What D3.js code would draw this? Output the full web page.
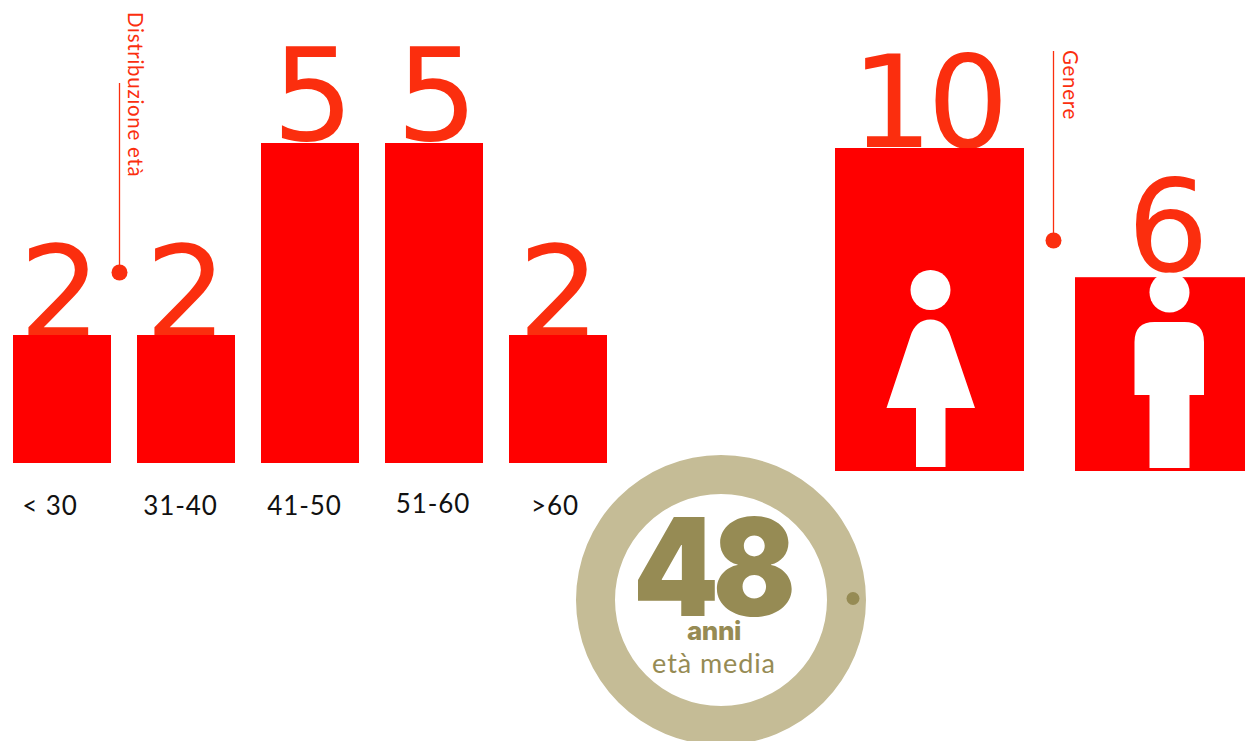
<!DOCTYPE html>
<html><head><meta charset="utf-8">
<script src="https://cdnjs.cloudflare.com/ajax/libs/d3/7.8.5/d3.min.js"></script>
<style>html,body{margin:0;padding:0;background:#fff}svg{display:block}</style>
</head><body><svg id="c" width="1245" height="741"></svg>
<script>
const ageCategories = ["< 30","31-40","41-50","51-60",">60"];
const ageValues = [2,2,5,5,2];
const genderCategories = ["Donne","Uomini"];
const genderValues = [10,6];
const ageTitle = "Distribuzione età";
const genderTitle = "Genere";
const averageAge = 48;
const averageUnit = "anni";
const averageLabel = "età media";

const RED="#ff0000", ORANGE="#fb2e0e", TAN="#c5bc96", OLIVE="#968b54";
const NUM_FONT="'DejaVu Sans'", TXT_FONT="Lato", HEAVY="Inter";
const svg=d3.select("#c");

const xAge=d3.scaleBand().domain(ageCategories).range([0,620]).paddingInner(26/124).paddingOuter(13/124);
const yAge=d3.scaleLinear().domain([0,5]).range([463,143]);

const ageLabelDx={"< 30":-12,"31-40":-5.5,"41-50":-5.5,"51-60":-1,">60":-3};
const ageLabelDy={"51-60":-2};
const ageNumDx=[-2,0,3,3,1];

const gAge=svg.append("g");
gAge.selectAll("text.num").data(ageValues).join("text").attr("class","num")
  .attr("x",(d,i)=>xAge(ageCategories[i])+xAge.bandwidth()/2+ageNumDx[i])
  .attr("y",d=>yAge(d)+(d===5?-3:3))
  .attr("text-anchor","middle").attr("font-family",NUM_FONT)
  .attr("font-size",129).attr("fill",ORANGE).text(d=>d);
gAge.selectAll("rect").data(ageValues).join("rect")
  .attr("x",(d,i)=>xAge(ageCategories[i])).attr("width",xAge.bandwidth())
  .attr("y",d=>yAge(d)).attr("height",d=>yAge(0)-yAge(d)).attr("fill",RED);
gAge.selectAll("text.lab").data(ageCategories).join("text").attr("class","lab")
  .attr("x",d=>xAge(d)+xAge.bandwidth()/2+ageLabelDx[d])
  .attr("y",d=>515+(ageLabelDy[d]||0))
  .attr("text-anchor","middle").attr("font-family",TXT_FONT).attr("font-size",26).attr("letter-spacing",0.9).attr("fill","#111").text(d=>d);

// gender bars
const yGender=d3.scaleLinear().domain([0,10]).range([471,148]);
const genderX=[835,1075], genderW=[189,170], genderNumX=[927,1168];
const gGen=svg.append("g");
gGen.selectAll("text").data(genderValues).join("text")
  .attr("x",(d,i)=>genderNumX[i]).attr("y",(d,i)=>yGender(d)+(i?-6:-1))
  .attr("text-anchor","middle").attr("font-family",NUM_FONT).attr("letter-spacing",(d,i)=>i?0:-6)
  .attr("font-size",129).attr("fill",ORANGE).text(d=>d);
gGen.selectAll("rect").data(genderValues).join("rect")
  .attr("x",(d,i)=>genderX[i]).attr("width",(d,i)=>genderW[i])
  .attr("y",d=>yGender(d)).attr("height",d=>yGender(0)-yGender(d)).attr("fill",RED);

// pictograms
const female=svg.append("g").attr("fill","#fff").attr("transform","translate(930.5,0)");
female.append("circle").attr("cy",290).attr("r",20);
female.append("path").attr("d","M-20,336 C-17,326 -10,319.5 0,319.5 C10,319.5 17,326 20,336 L44.5,408 L15,408 L15,467 L-14.5,467 L-14.5,408 L-44,408 Z");
const male=svg.append("g").attr("fill","#fff").attr("transform","translate(1169.5,0)");
male.append("circle").attr("cy",292.5).attr("r",20);
male.append("path").attr("d","M-35,342 Q-35,322 -15,322 L15,322 Q34.5,322 34.5,342 L34.5,395 L20,395 L20,468 L-20,468 L-20,395 L-35,395 Z");

// callouts
function callout(x,y1,y2,title,tx,ty){
  svg.append("line").attr("x1",x).attr("x2",x).attr("y1",y1).attr("y2",y2).attr("stroke",ORANGE).attr("stroke-width",1.3);
  svg.append("circle").attr("cx",x).attr("cy",y2).attr("r",8).attr("fill",ORANGE);
  svg.append("text").attr("transform",`translate(${tx},${ty}) rotate(90)`)
    .attr("font-family",TXT_FONT).attr("font-size",20.5).attr("letter-spacing",0.7).attr("fill",ORANGE).text(title);
}
callout(119.5,83,272.5,ageTitle,128,12);
callout(1053.5,51,240.5,genderTitle,1063,50);

// average ring
const ring=d3.arc()({innerRadius:106,outerRadius:145,startAngle:0,endAngle:2*Math.PI});
svg.append("path").attr("transform","translate(721,600)").attr("d",ring).attr("fill",TAN);
svg.append("circle").attr("cx",853).attr("cy",598.5).attr("r",6.5).attr("fill",OLIVE);
svg.append("text").attr("transform","translate(633,616) scale(0.9,1)").attr("font-family",HEAVY).attr("font-weight",900)
  .attr("font-size",136).attr("letter-spacing",-7).attr("fill",OLIVE).text(averageAge);
svg.append("text").attr("x",714).attr("y",640).attr("text-anchor","middle").attr("font-family",HEAVY).attr("font-weight",800)
  .attr("font-size",26).attr("letter-spacing",-0.4).attr("fill",OLIVE).text(averageUnit);
svg.append("text").attr("x",714).attr("y",673).attr("text-anchor","middle").attr("font-family",TXT_FONT)
  .attr("font-size",27).attr("letter-spacing",0.9).attr("fill",OLIVE).text(averageLabel);
</script></body></html>
